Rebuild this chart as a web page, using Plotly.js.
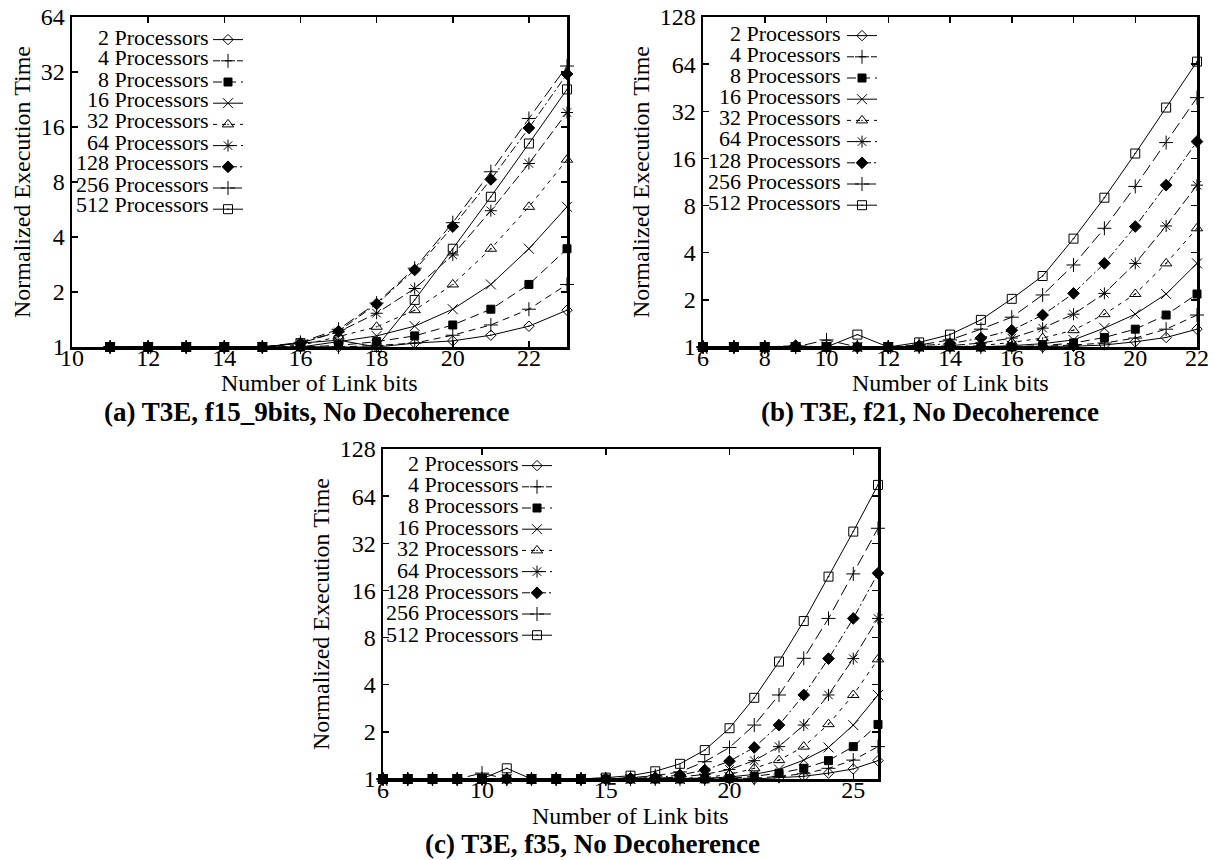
<!DOCTYPE html>
<html>
<head>
<meta charset="utf-8">
<script src="https://cdn.plot.ly/plotly-3.0.1.min.js"></script>
<style>html,body{margin:0;padding:0;background:#fff;}#chart{width:1214px;height:860px;}</style>
</head>
<body>
<div id="chart"></div>
<script>
// ---------- data ----------
const seriesNames = ['2 Processors','4 Processors','8 Processors','16 Processors','32 Processors','64 Processors','128 Processors','256 Processors','512 Processors'];

// (a) T3E, f15_9bits
const xA = [11,12,13,14,15,16,17,18,19,20,21,22,23];
const a2   = [1,1,1,1,1,1,1,1,1.05,1.08,1.16,1.30,1.59];
const a4   = [1,1,1,1,1,1,1,1.02,1.05,1.16,1.32,1.61,2.20];
const a8   = [1,1,1,1,1,1,1.02,1.07,1.15,1.32,1.61,2.20,3.45];
const a16  = [1,1,1,1,1,1,1.07,1.15,1.30,1.61,2.20,3.45,5.85];
const a32  = [1,1,1,1,1,1.02,1.14,1.29,1.59,2.20,3.45,5.85,10.6];
const a64  = [1,1,1,1,1,1.05,1.21,1.53,2.09,3.19,5.57,10.1,19.2];
const a128 = [1,1,1,1,1,1.05,1.22,1.72,2.64,4.56,8.26,15.8,31.2];
const a256 = [1,1,1,1,1,1.06,1.25,1.74,2.70,4.79,9.10,17.8,34.5];
const a512 = [1,1,1,1,1,1.05,1.09,1.00,1.81,3.45,6.64,13.0,25.7];

// (b) T3E, f21
const xB = [6,7,8,9,10,11,12,13,14,15,16,17,18,19,20,21,22];
const b2   = [1,1,1,1,1,1,1,1,1,1,1,1,1.01,1.03,1.08,1.15,1.30];
const b4   = [1,1,1,1,1,1,1,1,1,1,1,1.01,1.03,1.06,1.14,1.30,1.60];
const b8   = [1,1,1,1,1,1,1,1,1,1,1,1.02,1.06,1.15,1.30,1.60,2.18];
const b16  = [1,1,1,1,1,1,1,1,1,1,1.02,1.05,1.11,1.32,1.62,2.18,3.42];
const b32  = [1,1,1,1,1,1,1,1,1,1.02,1.07,1.14,1.28,1.62,2.18,3.42,5.73];
const b64  = [1,1,1,1,1,1,1,1,1.02,1.06,1.14,1.32,1.62,2.20,3.42,5.93,10.8];
const b128 = [1,1,1,1.02,1,1,1,1.02,1.05,1.14,1.28,1.60,2.20,3.42,5.88,10.8,20.5];
const b256 = [1,1,1,1,1.11,1,1,1.03,1.11,1.30,1.55,2.15,3.34,5.73,10.6,20.2,39.1];
const b512 = [1,1,1,1,1,1.20,1,1.07,1.20,1.49,2.03,2.84,4.92,8.98,17.2,33.8,66.4];

// (c) T3E, f35
const xC = [6,7,8,9,10,11,12,13,14,15,16,17,18,19,20,21,22,23,24,25,26];
const c2   = [1,1,1,1,1,1,1,1,1,1,1,1,1,1,1,1,1.02,1.04,1.09,1.16,1.31];
const c4   = [1,1,1,1,1,1,1,1,1,1,1,1,1,1,1,1.01,1.04,1.08,1.17,1.32,1.61];
const c8   = [1,1,1,1,1,1,1,1,1,1,1,1,1,1,1.01,1.04,1.09,1.17,1.31,1.61,2.23];
const c16  = [1,1,1,1,1,1,1,1,1,1,1,1,1,1.01,1.03,1.07,1.15,1.32,1.59,2.21,3.44];
const c32  = [1,1,1,1,1,1,1,1,1,1,1,1,1.01,1.02,1.07,1.17,1.32,1.61,2.24,3.44,5.81];
const c64  = [1,1,1,1,1,1,1,1,1,1,1,1.01,1.03,1.07,1.15,1.31,1.61,2.21,3.44,5.87,10.6];
const c128 = [1,1,1,1,1,1,1,1,1,1,1.01,1.02,1.06,1.14,1.30,1.59,2.21,3.44,5.87,10.6,20.6];
const c256 = [1,1,1,1,1.09,1,1,1,1,1,1.02,1.05,1.11,1.29,1.59,2.21,3.44,5.90,10.6,20.4,39.9];
const c512 = [1,1,1,1,1,1.17,1,1,1,1.02,1.05,1.12,1.25,1.53,2.11,3.30,5.62,10.2,19.6,38.0,75.5];

const panelTitles = ['(a) T3E, f15_9bits, No Decoherence','(b) T3E, f21, No Decoherence','(c) T3E, f35, No Decoherence'];
const xTitle = 'Number of Link bits';
const yTitle = 'Normalized Execution Time';
const yTicksA = [1,2,4,8,16,32,64];
const yTicksBC = [1,2,4,8,16,32,64,128];
const xTicksA = [10,12,14,16,18,20,22];
const xTicksB = [6,8,10,12,14,16,18,20,22];
const xTicksC = [6,10,15,20,25];

// ---------- styles ----------
const W = 1214, H = 860;
const FONT = '"Liberation Serif", "Times New Roman", Times, serif';
const markers = [
  {symbol:'diamond-open-dot', size:8},
  {symbol:'cross-thin-open', size:10},
  {symbol:'square', size:8},
  {symbol:'x-thin-open', size:10},
  {symbol:'triangle-up-open-dot', size:10},
  {symbol:'asterisk-open', size:10},
  {symbol:'diamond', size:9},
  {symbol:'cross-thin-open', size:10},
  {symbol:'square-open-dot', size:9}
];
const dashes = ['solid','7px,5px','9px,5px','solid','4px,5px','10px,4px','8px,3px,2px,3px','12px,5px','solid'];

// panel geometry in pixels
const panels = [
  {x0:72, x1:567, y0:17, y1:347, xr:[10,23], xt:xTicksA, yr:[1,64], yt:yTicksA, xs:xA, ys:[a2,a4,a8,a16,a32,a64,a128,a256,a512],
   legText:211, legMark:228, legRow0:37, legStep:21, capX:306, capY:412, titY:383},
  {x0:703, x1:1197, y0:17, y1:347, xr:[6,22], xt:xTicksB, yr:[1,128], yt:yTicksBC, xs:xB, ys:[b2,b4,b8,b16,b32,b64,b128,b256,b512],
   legText:843, legMark:862, legRow0:33, legStep:21.2, capX:930, capY:412, titY:383},
  {x0:383, x1:878, y0:449, y1:779, xr:[6,26], xt:xTicksC, yr:[1,128], yt:yTicksBC, xs:xC, ys:[c2,c4,c8,c16,c32,c64,c128,c256,c512],
   legText:521, legMark:537, legRow0:463, legStep:21.4, capX:592, capY:844, titY:816}
];

const traces = [];
const layout = {
  width: W, height: H,
  margin: {l:0, r:0, t:0, b:0},
  paper_bgcolor: '#fff', plot_bgcolor: '#fff',
  font: {family: FONT, color: '#000'},
  showlegend: true,
  annotations: []
};

panels.forEach((p, k) => {
  const sfx = k === 0 ? '' : String(k + 1);
  const legKey = 'legend' + sfx;
  p.ys.forEach((ys, i) => {
    traces.push({
      type: 'scatter', mode: 'lines+markers',
      x: p.xs, y: ys,
      name: '',
      xaxis: 'x' + sfx, yaxis: 'y' + sfx,
      legend: legKey,
      line: {color: '#000', width: 1, dash: dashes[i]},
      marker: {symbol: markers[i].symbol, size: markers[i].size, color: '#000', line: {color: '#000', width: 1}},
      cliponaxis: false,
      hoverinfo: 'x+y'
    });
    layout.annotations.push({
      xref: 'paper', yref: 'paper',
      x: p.legText / W, y: 1 - (p.legRow0 + i * p.legStep) / H,
      xanchor: 'right', yanchor: 'middle',
      text: seriesNames[i], showarrow: false,
      font: {family: FONT, size: 22, color: '#000'}
    });
  });
  layout[legKey] = {
    x: (p.legMark - 20) / W, xanchor: 'left',
    y: 1 - (p.legRow0 - 13) / H, yanchor: 'top',
    bgcolor: 'rgba(0,0,0,0)', borderwidth: 0,
    font: {family: FONT, size: 14, color: '#000'},
    itemwidth: 30, tracegroupgap: 0, traceorder: 'normal'
  };
  layout['xaxis' + sfx] = {
    domain: [p.x0 / W, p.x1 / W], anchor: 'y' + sfx,
    range: p.xr, tickvals: p.xt, ticktext: p.xt.map(String),
    ticks: 'inside', ticklen: 6, tickwidth: 1.5, tickcolor: '#000',
    ticklabelstandoff: -12,
    showline: true, linewidth: 2.5, linecolor: '#000', mirror: 'ticks',
    showgrid: false, zeroline: false,
    tickfont: {family: FONT, size: 24, color: '#000'}
  };
  layout['yaxis' + sfx] = {
    domain: [1 - p.y1 / H, 1 - p.y0 / H], anchor: 'x' + sfx,
    type: 'log', range: [Math.log10(p.yr[0]), Math.log10(p.yr[1])],
    tickvals: p.yt, ticktext: p.yt.map(String),
    ticks: 'inside', ticklen: 6, tickwidth: 1.5, tickcolor: '#000',
    showline: true, linewidth: 2.5, linecolor: '#000', mirror: 'ticks',
    showgrid: false, zeroline: false,
    tickfont: {family: FONT, size: 24, color: '#000'},
    title: {text: yTitle, font: {family: FONT, size: 24, color: '#000'}, standoff: 4}
  };
  // x-axis title, placed tight under the tick labels as in the reference
  layout.annotations.push({
    xref: 'paper', yref: 'paper',
    x: (p.x0 + p.x1) / 2 / W, y: 1 - p.titY / H, xanchor: 'center', yanchor: 'middle',
    text: xTitle, showarrow: false,
    font: {family: FONT, size: 24, color: '#000'}
  });
  layout.annotations.push({
    xref: 'paper', yref: 'paper',
    x: p.capX / W, y: 1 - p.capY / H, xanchor: 'center', yanchor: 'middle',
    text: '<b>' + panelTitles[k] + '</b>', showarrow: false,
    font: {family: FONT, size: 27, color: '#000'}
  });
});

Plotly.newPlot('chart', traces, layout, {staticPlot: true, displayModeBar: false});
</script>
</body>
</html>
